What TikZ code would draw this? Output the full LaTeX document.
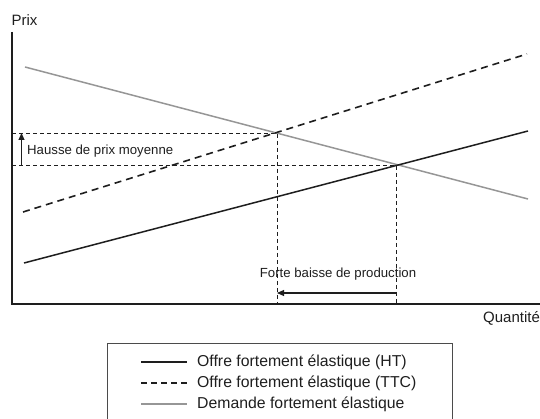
\documentclass[tikz,border=0pt]{standalone}
\usepackage{fontspec}
\setmainfont{Liberation Sans}
\usetikzlibrary{arrows.meta}
\definecolor{demgray}{RGB}{150,150,150}
\definecolor{ink}{RGB}{30,30,30}
\tikzset{
  axisline/.style={line width=1.1pt, ink},
  htline/.style={line width=1.5pt, ink},
  ttcline/.style={line width=1.6pt, ink, dash pattern=on 7pt off 5pt},
  demline/.style={line width=1.5pt, demgray},
  guide/.style={line width=0.7pt, ink, dash pattern=on 4pt off 3pt},
  lbl/.style={inner sep=0pt, font=\fontsize{13.2}{15}\selectfont, text=ink},
  axlbl/.style={inner sep=0pt, font=\fontsize{15}{17}\selectfont, text=ink},
  leglbl/.style={inner sep=0pt, anchor=west, font=\fontsize{15.8}{18}\selectfont, text=ink},
  arr/.style={line width=1.1pt, ink, -{Triangle[length=7pt,width=6pt]}},
}
\begin{document}
\begin{tikzpicture}[x=1pt,y=-1pt]
\useasboundingbox (0,0) rectangle (540,419);
% axes
\coordinate (ytop) at (12,32);
\coordinate (orig) at (12,304);
\coordinate (xend) at (541,304);
\draw[axisline] (ytop) -- (orig) -- (xend);
\node[axlbl] (prix) at (24.5,20) {Prix};
\node[axlbl, anchor=west] (quant) at (483,318) {Quantité};
% curves
\coordinate (d0) at (25,67);
\coordinate (d1) at (528,199);
\coordinate (h0) at (24,263);
\coordinate (h1) at (528,131);
\coordinate (t0) at (23,212);
\coordinate (t1) at (527,54);
% intersections
\coordinate (pA) at (277,133);
\coordinate (pB) at (396,165);
\coordinate (yA) at (12,133);
\coordinate (yB) at (12,165);
\coordinate (xA) at (277,304);
\coordinate (xB) at (396,304);
% guides
\draw[guide] (yA) -- (pA) -- (xA);
\draw[guide] (yB) -- (pB) -- (xB);
% lines
\draw[demline] (d0) -- (d1);
\draw[htline] (h0) -- (h1);
\draw[ttcline] (t0) -- (t1);
% price rise arrow
\coordinate (ra0) at (21.5,165);
\coordinate (ra1) at (21.5,133);
\draw[arr] (ra0) -- (ra1);
\node[lbl, anchor=west] (hausse) at (27,151) {Hausse de prix moyenne};
% production drop arrow
\coordinate (pa0) at (396,293);
\coordinate (pa1) at (277,293);
\draw[arr] (pa0) -- (pa1);
\node[lbl] (baisse) at (338,274) {Forte baisse de production};
% legend
\coordinate (lg0) at (107,343);
\coordinate (lg1) at (452,430);
\draw[line width=1pt, ink!80] (lg0) rectangle (lg1);
\coordinate (l1a) at (141,362); \coordinate (l1b) at (187,362);
\coordinate (l2a) at (141,383); \coordinate (l2b) at (187,383);
\coordinate (l3a) at (141,404); \coordinate (l3b) at (187,404);
\draw[htline, line width=1.3pt] (l1a) -- (l1b);
\draw[ink, line width=1.3pt, dash pattern=on 5.5pt off 4.5pt] (l2a) -- (l2b);
\draw[demline, line width=1.3pt] (l3a) -- (l3b);
\node[leglbl] (leg1) at (197,362) {Offre fortement élastique (HT)};
\node[leglbl] (leg2) at (197,383) {Offre fortement élastique (TTC)};
\node[leglbl] (leg3) at (197,404) {Demande fortement élastique};
\end{tikzpicture}
\end{document}
